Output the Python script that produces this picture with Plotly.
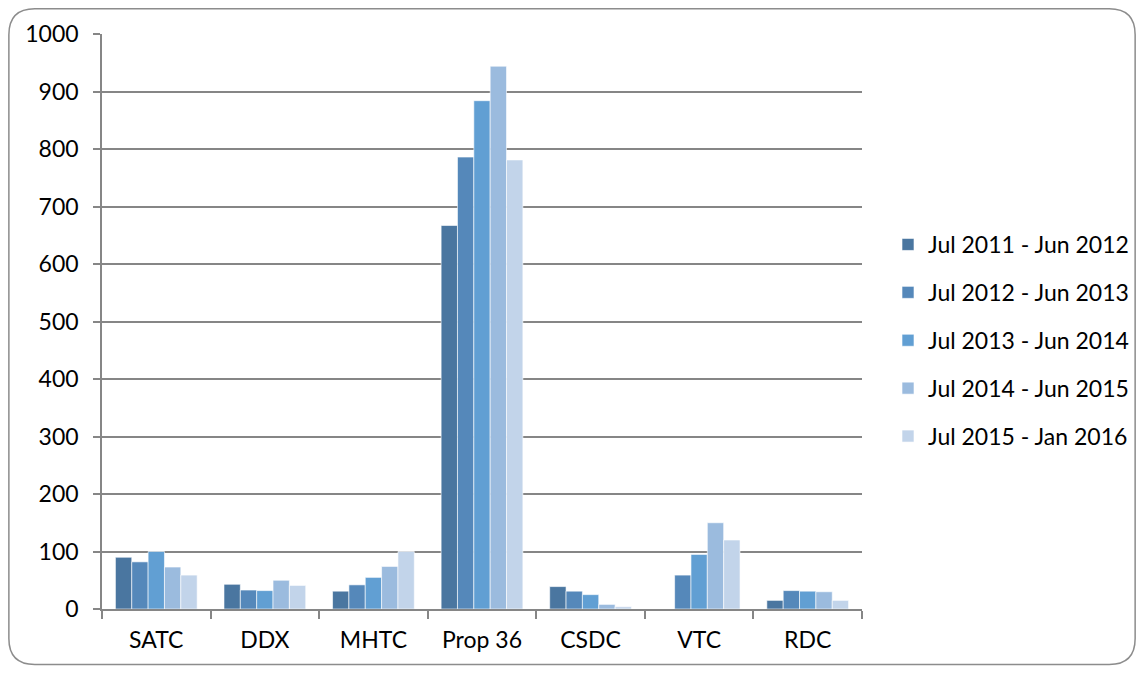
import plotly.graph_objects as go

categories = ["SATC", "DDX", "MHTC", "Prop 36", "CSDC", "VTC", "RDC"]
series_names = ["Jul 2011 - Jun 2012", "Jul 2012 - Jun 2013", "Jul 2013 - Jun 2014",
                "Jul 2014 - Jun 2015", "Jul 2015 - Jan 2016"]
s2011 = [90, 43, 31, 667, 39, 0, 15]
s2012 = [82, 33, 42, 786, 31, 59, 32]
s2013 = [100, 32, 55, 884, 25, 95, 31]
s2014 = [73, 50, 74, 944, 8, 150, 30]
s2015 = [59, 41, 100, 781, 4, 120, 15]
series_values = [s2011, s2012, s2013, s2014, s2015]
colors = ["#4A76A0", "#5588BA", "#619FD3", "#9BBBDE", "#C2D4EA"]
y_ticks = list(range(0, 1001, 100))

# page body has an 8px margin, so the figure is 8px smaller than the window
W, H = 1137, 665
L, T, pw, ph = 94, 26, 761, 575
R, B = W - L - pw, H - T - ph

fig = go.Figure()
for name, vals, c in zip(series_names, series_values, colors):
    fig.add_trace(go.Bar(
        x=categories, y=vals, name=name, legendgroup=name,
        marker=dict(color=c, line=dict(color="rgba(255,255,255,0.6)", width=1)),
    ))

def px(x):
    return (x - L) / pw

def py(y):
    return (H - B - y) / ph

x0, x1, y0, y1, r = 0.75, 1128.5, 0.75, 656.5, 26
path = (f"M {px(x0 + r)} {py(y0)} L {px(x1 - r)} {py(y0)} "
        f"Q {px(x1)} {py(y0)} {px(x1)} {py(y0 + r)} "
        f"L {px(x1)} {py(y1 - r)} Q {px(x1)} {py(y1)} {px(x1 - r)} {py(y1)} "
        f"L {px(x0 + r)} {py(y1)} Q {px(x0)} {py(y1)} {px(x0)} {py(y1 - r)} "
        f"L {px(x0)} {py(y0 + r)} Q {px(x0)} {py(y0)} {px(x0 + r)} {py(y0)} Z")

fig.update_layout(
    width=W, height=H,
    margin=dict(l=L, r=R, t=T, b=B, pad=0),
    paper_bgcolor="white", plot_bgcolor="white",
    barmode="group", bargap=0.247, bargroupgap=0,
    font=dict(family="Lato, Open Sans, sans-serif", size=23, color="black"),
    showlegend=True,
    legend=dict(x=px(880), y=py(215), xanchor="left", yanchor="top",
                traceorder="grouped", tracegroupgap=15,
                font=dict(size=23), itemwidth=30, bgcolor="rgba(0,0,0,0)"),
    shapes=[dict(type="path", xref="paper", yref="paper", path=path,
                 line=dict(color="#8C8C8C", width=1.5), fillcolor="rgba(0,0,0,0)",
                 layer="below")],
    xaxis=dict(showline=True, linecolor="#868686", linewidth=1.5,
               ticks="outside", ticklen=8, tickcolor="#868686", tickwidth=1.5,
               tickson="boundaries", showgrid=False, mirror=False,
               ticklabelstandoff=10, tickfont=dict(size=23)),
    yaxis=dict(range=[0, 1000], tickvals=y_ticks, showline=True, linecolor="#868686",
               linewidth=1.5, ticks="outside", ticklen=7, tickcolor="#868686",
               tickwidth=1.5, showgrid=True, gridcolor="#868686", gridwidth=1.5,
               zeroline=False, ticklabelstandoff=10, tickfont=dict(size=23)),
)

fig.write_html("out.html")
